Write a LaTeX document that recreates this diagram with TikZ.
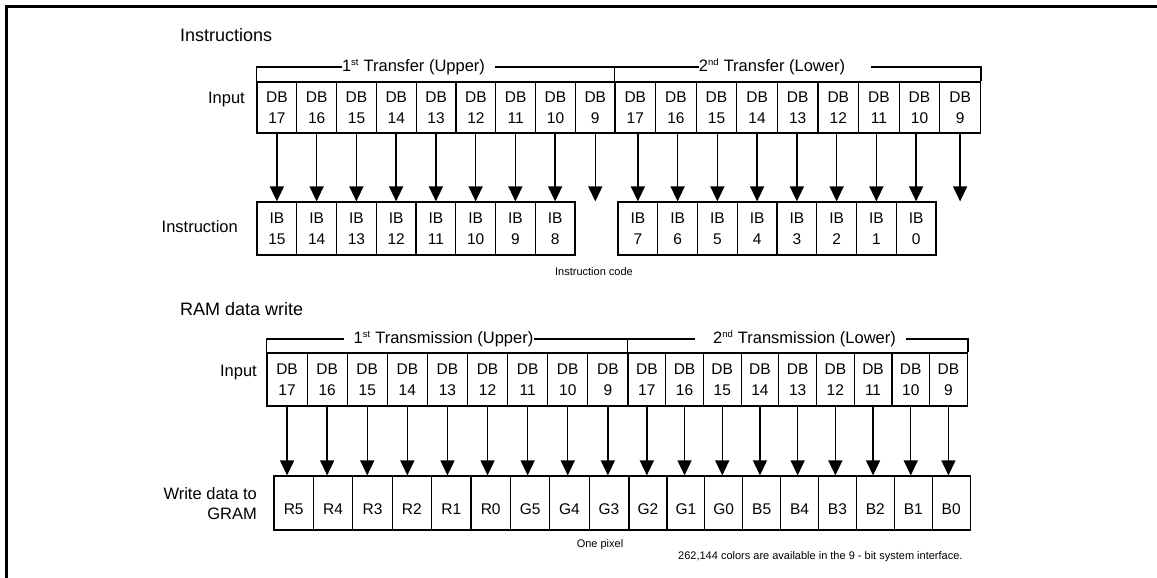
\documentclass[tikz,border=0pt]{standalone}
\usepackage{fontspec}
\setmainfont{Liberation Sans}
\usetikzlibrary{arrows.meta}

\newcommand\sups[1]{\textsuperscript{\fontsize{9.5}{10}\selectfont #1}}

\tikzset{
  cellbox/.style={draw,line width=1.2pt,inner sep=0pt,align=center,font=\fontsize{15.5}{21}\selectfont},
  gcell/.style={cellbox,text height=23pt,text depth=0pt},
  lbl/.style={inner sep=0pt,font=\fontsize{16.5}{20}\selectfont},
  ttl/.style={inner sep=0pt,font=\fontsize{18}{22}\selectfont},
  note/.style={inner sep=0pt,font=\fontsize{11}{13}\selectfont},
  brk/.style={line width=1.2pt},
  arr/.style={line width=1.4pt,-{Triangle[width=14pt,length=15pt]}}
}

\begin{document}
\begin{tikzpicture}[x=1pt,y=-1pt]
\useasboundingbox (0,0) rectangle (1157,578);
\draw[line width=3pt] (6,578) -- (6,7) -- (1157,7);

\node[ttl,anchor=base west] (instr) at (180,42) {Instructions};
\node[lbl,anchor=base east] (inp1) at (245,103) {Input};
\node[lbl,anchor=base east] (ins1) at (238,232) {Instruction};

\foreach \n [count=\i] in {17,16,...,9}
  \node[cellbox,minimum width=39.8pt,minimum height=51pt] (ia\i) at ({257+(\i-0.5)*39.8},107.5) {DB\\\n};
\foreach \n [count=\i from 10] in {17,16,...,9}
  \node[cellbox,minimum width=40.6pt,minimum height=51pt] (ia\i) at ({615+(\i-9.5)*40.6},107.5) {DB\\\n};

\foreach \n [count=\i] in {15,14,...,8}
  \node[cellbox,minimum width=39.75pt,minimum height=53pt] (ib\i) at ({257+(\i-0.5)*39.75},228.5) {IB\\\n};
\foreach \n [count=\i from 9] in {7,6,...,0}
  \node[cellbox,minimum width=39.75pt,minimum height=53pt] (ib\i) at ({618+(\i-8.5)*39.75},228.5) {IB\\\n};

\foreach \i in {1,...,8}
  \draw[arr] (ib\i |- ia\i.south) -- (ib\i.north);
\foreach \i [evaluate=\i as \j using int(\i-1)] in {10,...,17}
  \draw[arr] (ib\j |- ia\i.south) -- (ib\j.north);
\coordinate (nca) at (ia9 |- ib1.north);
\coordinate (ncb) at (ia18 |- ib1.north);
\draw[arr] (ia9) -- (nca);
\draw[arr] (ia18) -- (ncb);

\node[lbl] (tra) at (413.5,67) {1\sups{st} Transfer (Upper)};
\node[lbl] (trb) at (772,67) {2\sups{nd} Transfer (Lower)};
\draw[brk] (tra.west) -| (ia1.north west);
\draw[brk] ([xshift=10pt]tra.east) -| (ia10.north west);
\draw[brk] (trb.west) -| (ia10.north west);
\draw[brk] ([xshift=26pt]trb.east) -| (ia18.north east);

\node[note] (icode) at (594,272) {Instruction code};

\node[ttl,anchor=base west] (ramw) at (180,315) {RAM data write};
\node[lbl,anchor=base east] (inp2) at (257,376) {Input};
\node[lbl,anchor=east,align=right] (wgram) at (257,504) {Write data to\\GRAM};

\foreach \n [count=\i] in {17,16,...,9}
  \node[cellbox,minimum width=40.1pt,minimum height=53pt] (ja\i) at ({267+(\i-0.5)*40.1},379.5) {DB\\\n};
\foreach \n [count=\i from 10] in {17,16,...,9}
  \node[cellbox,minimum width=37.7pt,minimum height=53pt] (ja\i) at ({628+(\i-9.5)*37.7},379.5) {DB\\\n};

\foreach \n [count=\i] in {R5,R4,R3,R2,R1,R0,G5,G4,G3}
  \node[gcell,minimum width=39.4pt,minimum height=54pt] (g\i) at ({274+(\i-0.5)*39.4},503) {\n};
\foreach \n [count=\i from 10] in {G2,G1,G0,B5,B4,B3,B2,B1,B0}
  \node[gcell,minimum width=37.9pt,minimum height=54pt] (g\i) at ({629+(\i-9.5)*37.9},503) {\n};

\foreach \i in {1,...,18}
  \draw[arr] (ja\i) -- (ja\i |- g\i.north);

\node[lbl] (tma) at (443.5,339) {1\sups{st} Transmission (Upper)};
\node[lbl] (tmb) at (804.5,339) {2\sups{nd} Transmission (Lower)};
\draw[brk] ([xshift=-9pt]tma.west) -| (ja1.north west);
\draw[brk] (tma.east) -| (ja10.north west);
\draw[brk] ([xshift=-18pt]tmb.west) -| (ja10.north west);
\draw[brk] ([xshift=10pt]tmb.east) -| (ja18.north east);

\node[note] (pix) at (600,545) {One pixel};
\node[note,anchor=west] (cols) at (678,557) {262,144 colors are available in the 9 - bit system interface.};
\end{tikzpicture}
\end{document}
